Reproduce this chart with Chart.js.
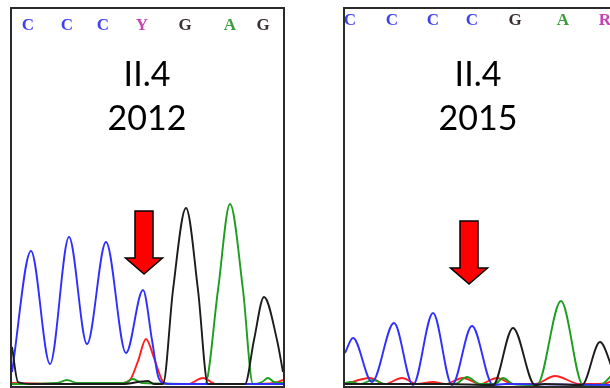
<!DOCTYPE html>
<html><head><meta charset="utf-8">
<script src="https://cdn.jsdelivr.net/npm/chart.js@4"></script>
<style>
html,body{margin:0;padding:0;background:#fff;width:610px;height:388px;overflow:hidden;}
.panel{position:absolute;top:7px;height:377px;border:2px solid #2b2b2b;}
#p1{left:10px;width:271px;}
#p2{left:343px;width:268px;}
canvas{display:block;}
</style></head><body>
<div class="panel" id="p1"><canvas id="c1" width="271" height="377"></canvas></div>
<div class="panel" id="p2"><canvas id="c2" width="268" height="377"></canvas></div>
<script>
// ---- data (x: scan position, y: signal) ----
const letters2012 = ['C','C','C','Y','G','A','G'];
const basePos2012 = [16, 55, 91, 130, 173, 218, 251];
const letters2015 = ['C','C','C','C','G','A','R'];
const basePos2015 = [5, 47, 88, 127, 170, 218, 260];
const titles2012 = ['II.4', '2012'];
const titles2015 = ['II.4', '2015'];

const blue2012  = [[0,14],[19,135],[38,22],[57,149],[75,42],[94,144],[114,33],[131,96],[140,46],[146,10],[151,3],[160,2],[200,2],[271,2]];
const black2012 = [[0,39],[6,4],[20,2],[60,2],[110,2],[136,5],[142,2],[151,2],[161,96],[174,178],[186,96],[196,2],[210,2],[233,2],[242,46],[252,89],[265,46],[271,14]];
const green2012 = [[0,2],[45,3],[55,6],[65,3],[112,3],[121,7],[130,3],[193,2],[206,96],[218,182],[231,96],[241,2],[250,4],[256,8],[262,4],[271,3]];
const red2012   = [[0,3],[60,2],[110,3],[118,6],[126,25],[134,47],[142,28],[150,6],[156,2],[176,2],[191,8],[204,2],[240,2],[262,3],[271,6]];

const blue2015  = [[0,33],[8,48],[27,4],[49,63],[68,1],[88,73],[107,1],[127,60],[148,1],[160,2],[268,1]];
const black2015 = [[0,2],[40,2],[100,2],[148,1],[168,58],[190,1],[200,2],[237,1],[255,44],[268,16]];
const green2015 = [[0,3],[5,4],[15,2],[28,6],[40,2],[110,2],[122,9],[135,2],[150,2],[158,8],[168,2],[192,1],[216,85],[238,1],[255,1],[268,12]];
const red2015   = [[0,2],[25,8],[40,2],[57,8],[72,2],[88,4],[100,2],[118,8],[135,2],[152,8],[168,2],[190,2],[210,10],[235,2],[250,2],[262,3],[268,6]];

const baseColors = {C:'#4040f0', G:'#3a3030', A:'#3c9c3c', Y:'#c843b4', R:'#c843b4', T:'#e02020'};

const annot = {
  id: 'annot',
  afterDatasetsDraw(chart, args, o) {
    const {ctx} = chart;
    const xs = chart.scales.x, ys = chart.scales.y;
    ctx.save();
    ctx.fillStyle = '#000';
    ctx.font = '34px Lato';
    ctx.textAlign = 'center';
    ctx.textBaseline = 'middle';
    o.lines.forEach((t, i) => ctx.fillText(t, o.textX, o.textY + i * o.lineGap));
    const tx = xs.getPixelForValue(o.arrowX), ty = ys.getPixelForValue(o.arrowY);
    ctx.beginPath();
    ctx.moveTo(tx, ty);
    ctx.lineTo(tx - 18.5, ty - 16);
    ctx.lineTo(tx - 9, ty - 16);
    ctx.lineTo(tx - 9, ty - 63);
    ctx.lineTo(tx + 9, ty - 63);
    ctx.lineTo(tx + 9, ty - 16);
    ctx.lineTo(tx + 18.5, ty - 16);
    ctx.closePath();
    ctx.fillStyle = '#ff0000';
    ctx.fill();
    ctx.lineWidth = 1.5;
    ctx.strokeStyle = '#000';
    ctx.stroke();
    ctx.restore();
  }
};

function ds(pts, color) {
  return {data: pts.map(p => ({x: p[0], y: p[1]})), borderColor: color, borderWidth: 1.9,
    pointRadius: 0, cubicInterpolationMode: 'monotone', fill: false, clip: false};
}

function makeChart(id, s, pos, letters, xmax, pad, ann) {
  return new Chart(document.getElementById(id), {
    type: 'line',
    data: {datasets: [ds(s.black, '#1c1c1c'), ds(s.blue, '#2f2fff'), ds(s.green, '#1e9e1e'), ds(s.red, '#ff1e1e')]},
    plugins: [annot],
    options: {
      responsive: false, animation: false, devicePixelRatio: 1, events: [],
      layout: {padding: 0},
      plugins: {legend: {display: false}, tooltip: {enabled: false}, annot: ann},
      scales: {
        x: {type: 'linear', position: 'top', min: 0, max: xmax,
          grid: {display: false, drawTicks: false}, border: {display: false},
          afterBuildTicks: ax => { ax.ticks = pos.map(v => ({value: v})); },
          afterFit: ax => { ax.height = 30; ax.paddingLeft = 0; ax.paddingRight = 0; },
          ticks: {autoSkip: false, maxRotation: 0, minRotation: 0, padding: pad,
            font: {family: 'Liberation Serif', size: 17, weight: 'bold'},
            color: c => baseColors[letters[c.index]],
            callback: (v, i) => letters[i]}
        },
        y: {display: false, min: 0, max: 347}
      }
    }
  });
}

makeChart('c1', {blue: blue2012, black: black2012, green: green2012, red: red2012},
  basePos2012, letters2012, 271, 3,
  {lines: titles2012, textX: 135, textY: 66, lineGap: 44, arrowX: 132, arrowY: 112});
makeChart('c2', {blue: blue2015, black: black2015, green: green2015, red: red2015},
  basePos2015, letters2015, 268, 8,
  {lines: titles2015, textX: 133, textY: 66, lineGap: 44, arrowX: 124, arrowY: 102});
</script>
</body></html>
